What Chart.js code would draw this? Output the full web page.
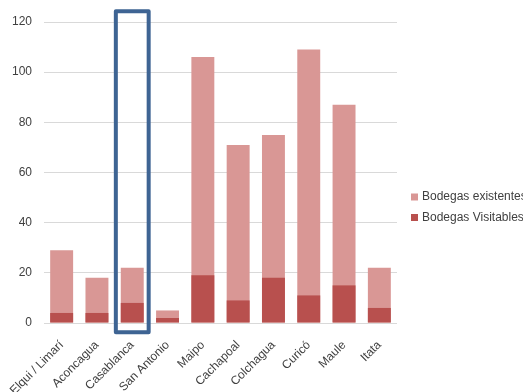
<!DOCTYPE html>
<html>
<head>
<meta charset="utf-8">
<script src="https://cdn.jsdelivr.net/npm/chart.js@4"></script>
<style>
  html, body { margin: 0; padding: 0; background: #fff; }
  canvas { display: block; }
</style>
</head>
<body>
<canvas id="c" width="523" height="392"></canvas>
<script>
// Valles vitivinícolas de Chile
const regiones = ['Elqui / Limarí', 'Aconcagua', 'Casablanca', 'San Antonio', 'Maipo',
                  'Cachapoal', 'Colchagua', 'Curicó', 'Maule', 'Itata'];
const bodegasExistentes = [29, 18, 22, 5, 106, 71, 75, 109, 87, 22];
const bodegasVisitables = [4, 4, 8, 2, 19, 9, 18, 11, 15, 6];
const ejeYMin = 0;
const ejeYMax = 120;
const ejeYPaso = 20;
const regionDestacada = 'Casablanca';

const colorExistentes = '#d99795';
const colorVisitables = '#b8504e';
const fuente = { family: '"Liberation Sans", Arial, sans-serif', size: 12 };
const colorTexto = '#404040';

// Leyenda vertical a la derecha del área de trazado
const leyenda = {
  id: 'leyendaDerecha',
  afterDraw(chart) {
    const ctx = chart.ctx;
    const items = [
      { texto: chart.data.datasets[1].label, color: chart.data.datasets[1].backgroundColor },
      { texto: chart.data.datasets[0].label, color: chart.data.datasets[0].backgroundColor }
    ];
    ctx.save();
    ctx.font = fuente.size + 'px ' + fuente.family;
    ctx.textBaseline = 'middle';
    ctx.textAlign = 'left';
    items.forEach((it, i) => {
      const y = 197 + i * 20.5;
      ctx.fillStyle = it.color;
      ctx.fillRect(411, y - 3.5, 7, 7);
      ctx.fillStyle = colorTexto;
      ctx.fillText(it.texto, 422, y);
    });
    ctx.restore();
  }
};

// Recuadro que resalta una región
const recuadro = {
  id: 'recuadroRegion',
  afterDraw(chart) {
    const x = chart.scales.x;
    const idx = chart.data.labels.indexOf(regionDestacada);
    if (idx < 0) return;
    const centro = x.getPixelForValue(idx);
    const ancho = (x.width / chart.data.labels.length) * 0.93;
    const area = chart.chartArea;
    const ctx = chart.ctx;
    ctx.save();
    ctx.strokeStyle = '#3e6493';
    ctx.lineWidth = 4;
    ctx.lineJoin = 'round';
    ctx.strokeRect(centro - ancho / 2, area.top - 10.7, ancho, (area.bottom + 9.3) - (area.top - 10.7));
    ctx.restore();
  }
};

new Chart(document.getElementById('c'), {
  type: 'bar',
  data: {
    labels: regiones,
    datasets: [
      {
        label: 'Bodegas Visitables',
        data: bodegasVisitables,
        backgroundColor: colorVisitables,
        grouped: false,
        barPercentage: 0.65,
        categoryPercentage: 1
      },
      {
        label: 'Bodegas existentes',
        data: bodegasExistentes,
        backgroundColor: colorExistentes,
        grouped: false,
        barPercentage: 0.65,
        categoryPercentage: 1
      }
    ]
  },
  options: {
    responsive: false,
    animation: false,
    layout: { padding: { top: 22, right: 126, bottom: 0, left: 0 } },
    plugins: {
      legend: { display: false },
      tooltip: { enabled: false }
    },
    scales: {
      x: {
        grid: { display: false, drawTicks: false },
        border: { display: false },
        ticks: {
          autoSkip: false,
          minRotation: 45,
          maxRotation: 45,
          padding: 15,
          color: colorTexto,
          font: fuente
        },
        afterFit(scale) {
          scale.height = 69;
          scale.paddingLeft = 0;
          scale.paddingRight = 0;
        }
      },
      y: {
        min: ejeYMin,
        max: ejeYMax,
        grid: { color: '#d9d9d9', lineWidth: 1, drawTicks: false },
        border: { display: false },
        ticks: {
          stepSize: ejeYPaso,
          padding: 12,
          color: colorTexto,
          font: fuente
        },
        afterFit(scale) { scale.width = 44; }
      }
    }
  },
  plugins: [leyenda, recuadro]
});
</script>
</body>
</html>
